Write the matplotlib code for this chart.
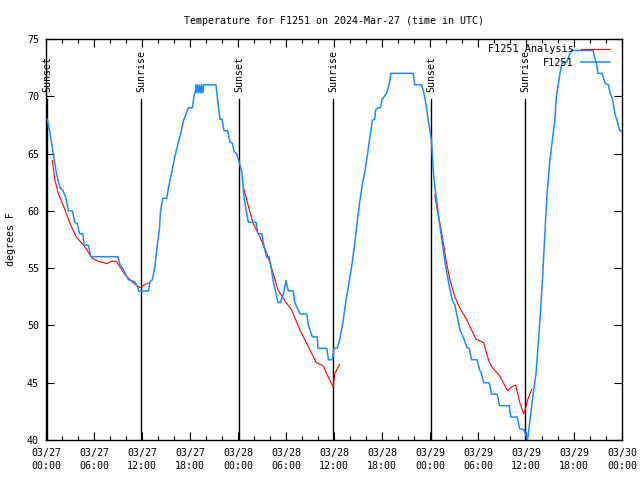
import matplotlib
matplotlib.use("Agg")
import matplotlib.pyplot as plt
import numpy as np

# ---- data (hours since 2024-03-27 00:00 UTC) ----
obs_hours = [0.15, 0.5, 0.9, 1.3, 1.75, 2.1, 2.5, 2.8, 3.3, 3.6, 3.9, 4.2, 4.6, 4.75, 5.3, 5.6,
             9.0, 9.25, 9.6, 10.0, 10.3, 11.1, 11.5, 11.55, 12.8, 13.0, 13.3, 13.6, 13.9, 14.2,
             14.3, 14.6, 15.1, 15.3, 15.7, 16.1, 16.4, 16.75, 17.2, 17.6, 17.8, 18.3, 18.5, 18.7,
             18.75, 18.85, 18.95, 19.1, 19.2, 19.35, 19.45, 19.6, 19.7, 21.25, 21.5, 21.75, 22.0,
             22.25, 22.7, 23.0, 23.3, 23.5, 23.8, 24.1, 24.5, 24.7, 25.0, 25.3, 26.25, 26.5, 27.0,
             27.25, 27.6, 27.9, 28.2, 28.4, 28.75, 29.0, 29.3, 29.7, 30.0, 30.3, 30.9, 31.1, 31.75,
             32.6, 32.8, 33.3, 33.9, 34.0, 35.1, 35.3, 35.8, 36.0, 36.4, 36.7, 37.1, 37.5, 37.8,
             38.2, 38.6, 39.05, 39.25, 39.5, 39.9, 40.2, 40.5, 40.8, 41.1, 41.2, 41.5, 41.8, 42.0,
             42.3, 42.6, 42.8, 43.0, 43.1, 45.9, 46.1, 46.95, 47.2, 47.4, 47.6, 47.8, 48.0, 48.2,
             48.4, 48.6, 48.9, 49.05, 49.25, 49.6, 49.9, 50.2, 50.5, 50.8, 51.1, 51.4, 51.75, 52.2,
             52.6, 52.9, 53.2, 53.9, 54.2, 54.4, 54.7, 55.4, 55.7, 56.4, 56.7, 57.9, 58.1, 58.9,
             59.2, 59.75, 60.0, 60.2, 60.5, 60.8, 61.25, 61.5, 61.8, 62.1, 62.4, 62.6, 63.0, 63.3,
             63.6, 63.8, 64.25, 64.5, 65.1, 65.5, 65.7, 68.4, 68.6, 68.8, 69.0, 69.5, 69.9, 70.3,
             70.5, 70.7, 70.9, 71.1, 71.5, 71.7, 72.0]
obs_temps = [68.0, 66.8, 65.0, 63.3, 62.0, 61.8, 61.1, 60.0, 60.0, 59.0, 58.9, 58.0, 58.0, 57.0, 57.0, 56.0,
             56.0, 55.3, 55.0, 54.4, 54.0, 53.8, 53.3, 53.0, 53.0, 53.8, 54.0, 55.1, 56.9, 58.6,
             59.9, 61.1, 61.1, 62.0, 63.3, 64.7, 65.6, 66.5, 67.9, 68.65, 69.0, 69.0, 70.0, 70.5,
             71.0, 70.3, 71.0, 70.3, 71.0, 70.3, 71.0, 70.3, 71.0, 71.0, 69.4, 68.0, 68.0,
             67.0, 67.0, 66.0, 65.9, 65.2, 65.0, 64.4, 63.3, 61.5, 60.1, 59.0, 59.0, 58.0, 58.0,
             56.9, 55.9, 56.0, 54.8, 53.9, 52.8, 52.0, 52.0, 52.8, 53.9, 53.0, 53.0, 52.0, 51.0,
             51.0, 50.0, 49.0, 49.0, 48.0, 48.0, 47.0, 47.0, 48.0, 48.0, 48.7, 50.2, 52.2, 53.4,
             55.1, 57.2, 59.9, 60.95, 62.1, 63.6, 65.0, 66.5, 67.9, 68.0, 68.8, 69.0, 69.0, 69.7,
             70.0, 70.3, 70.8, 71.4, 72.0, 72.0, 71.0, 71.0, 70.4, 69.7, 68.8, 67.8, 67.0, 66.0,
             63.6, 62.1, 60.6, 59.6, 58.6, 56.9, 55.4, 54.25, 53.1, 52.2, 51.8, 50.8, 49.6, 48.9,
             48.1, 48.0, 47.0, 47.0, 46.1, 45.9, 45.0, 45.0, 44.0, 44.0, 43.0, 43.0, 42.0, 42.0,
             41.0, 40.9, 40.4, 40.0, 41.75, 43.5, 45.8, 48.1, 51.05, 54.55, 58.6, 61.2, 64.5, 66.2,
             67.9, 70.0, 72.0, 72.9, 73.0, 73.75, 74.0, 74.0, 73.3, 72.9, 72.0, 72.0, 71.1, 71.0,
             70.3, 70.0, 69.4, 68.5, 67.6, 67.05, 66.9]

ana1_hours = [0.8, 1.1, 1.55, 2.2, 3.0, 3.8, 4.7, 5.3, 5.7, 6.5, 7.6, 8.2, 8.8, 9.25, 9.9, 10.5,
              11.1, 11.75, 12.2, 12.8]
ana1_temps = [64.4, 62.7, 61.5, 60.4, 58.9, 57.7, 57.0, 56.4, 55.9, 55.6, 55.4, 55.6, 55.6, 55.1,
              54.4, 54.0, 53.6, 53.3, 53.5, 53.7]
ana2_hours = [24.75, 25.3, 25.9, 26.75, 27.6, 28.4, 29.0, 29.9, 30.7, 31.75, 33.0, 33.8, 34.7, 35.0,
              35.5, 35.9, 36.1, 36.7]
ana2_temps = [61.9, 60.4, 58.9, 57.7, 56.3, 54.55, 53.1, 52.1, 51.35, 49.6, 47.85, 46.75, 46.45,
              45.9, 45.2, 44.6, 45.8, 46.6]
ana3_hours = [48.6, 48.9, 49.25, 49.6, 50.0, 50.5, 51.1, 51.75, 52.6, 53.2, 53.75, 54.7, 55.3, 55.7,
              56.7, 57.2, 57.7, 58.2, 58.7, 59.25, 59.7, 59.9, 60.2, 60.7]
ana3_temps = [61.4, 60.1, 58.9, 57.5, 55.7, 53.95, 52.5, 51.5, 50.5, 49.6, 48.8, 48.5, 47.0, 46.4,
              45.6, 44.95, 44.3, 44.65, 44.8, 43.2, 42.3, 42.6, 43.5, 44.4]

sun_hours = [0.1, 11.875, 24.125, 35.875, 48.125, 59.875]
sun_labels = ["Sunset", "Sunrise", "Sunset", "Sunrise", "Sunset", "Sunrise"]

xtick_hours = list(range(0, 73, 6))
xtick_labels = ["03/27\n00:00", "03/27\n06:00", "03/27\n12:00", "03/27\n18:00",
                "03/28\n00:00", "03/28\n06:00", "03/28\n12:00", "03/28\n18:00",
                "03/29\n00:00", "03/29\n06:00", "03/29\n12:00", "03/29\n18:00",
                "03/30\n00:00"]
ytick_vals = [40, 45, 50, 55, 60, 65, 70, 75]

# ---- plot ----
FONT = "DejaVu Sans Mono"
FS = 7.2
plt.rcParams['font.family'] = FONT
plt.rcParams['font.size'] = FS

fig = plt.figure(figsize=(6.4, 4.8), dpi=100)
ax = fig.add_axes([46/640, 40/480, 576/640, 401/480])

for h, lab in zip(sun_hours, sun_labels):
    ax.plot([h, h], [40, 69.75], color='black', lw=1.0, zorder=2)
    ax.text(h + 0.08, 70.35, lab, rotation=90, ha='center', va='bottom', fontsize=FS)

red = '#ff0000'
blue = '#1a8cff'
l1, = ax.plot(ana1_hours, ana1_temps, color=red, lw=0.8, zorder=3, label='F1251 Analysis')
ax.plot(ana2_hours, ana2_temps, color=red, lw=0.8, zorder=3)
ax.plot(ana3_hours, ana3_temps, color=red, lw=0.8, zorder=3)
l2, = ax.plot(obs_hours, obs_temps, color=blue, lw=1.1, zorder=4, label='F1251')

ax.set_xlim(0, 72)
ax.set_ylim(40, 75)
ax.set_xticks(xtick_hours)
ax.set_xticklabels(xtick_labels, linespacing=1.35)
ax.set_xticks(np.arange(0, 73, 2), minor=True)
ax.set_yticks(ytick_vals)
ax.set_yticklabels([str(v) for v in ytick_vals])
ax.tick_params(which='major', direction='in', length=6, width=0.8, top=True, right=True, pad=5)
ax.tick_params(which='minor', direction='in', length=3, width=0.8, top=True, right=True)
ax.tick_params(axis='x', which='major', pad=6)
for s in ax.spines.values():
    s.set_linewidth(1.0)

ax.set_ylabel('degrees F', fontsize=FS, labelpad=8)
ax.set_title('Temperature for F1251 on 2024-Mar-27 (time in UTC)', fontsize=FS, pad=11)

leg = ax.legend(handles=[l1, l2], loc='upper right', bbox_to_anchor=(0.9875, 1.0),
                frameon=False, markerfirst=False, handlelength=2.8, handletextpad=0.7,
                labelspacing=0.35, borderpad=0, fontsize=FS + 0.2)
for t in leg.get_texts():
    t.set_ha('right')

fig.savefig('out.png', dpi=100)
